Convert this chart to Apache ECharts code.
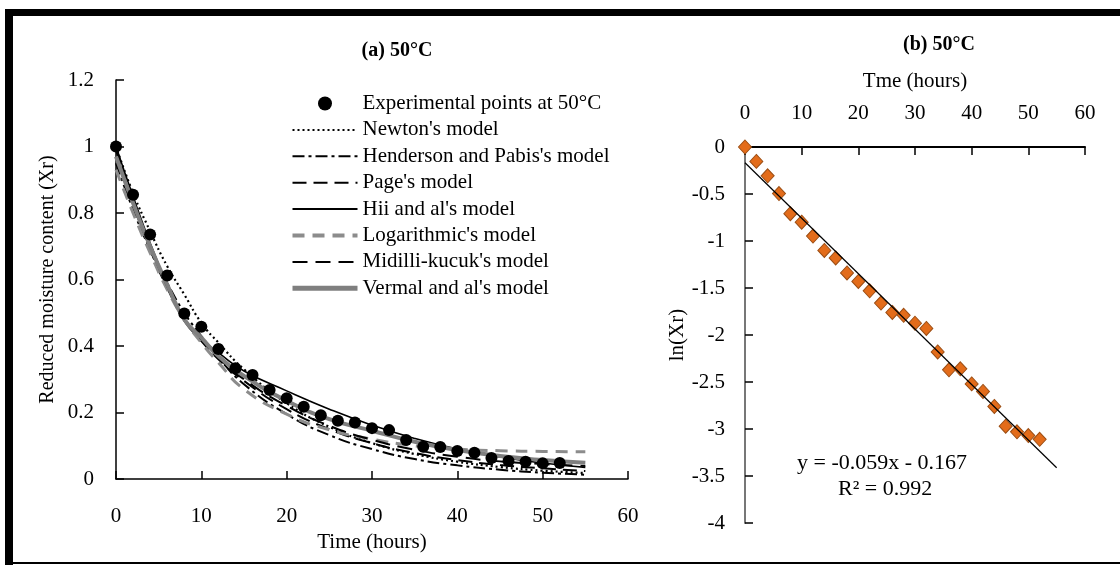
<!DOCTYPE html>
<html>
<head>
<meta charset="utf-8">
<script src="https://cdn.jsdelivr.net/npm/echarts@6/dist/echarts.min.js"></script>
<style>
  html, body { margin: 0; padding: 0; background: #fff; }
  #chart { width: 1120px; height: 565px; }
</style>
</head>
<body>
<div id="chart"></div>
<script>
// experimental drying points (hours) and reduced moisture content
const expTimes = [0, 2, 4, 6, 8, 10, 12, 14, 16, 18, 20, 22, 24, 26, 28, 30, 32, 34, 36, 38, 40, 42, 44, 46, 48, 50, 52];
const expXr = [1, 0.855, 0.735, 0.612, 0.498, 0.458, 0.391, 0.333, 0.313, 0.268, 0.243, 0.217, 0.192, 0.175, 0.17, 0.153, 0.147, 0.117, 0.097, 0.096, 0.084, 0.079, 0.063, 0.054, 0.052, 0.047, 0.048];
const expLnXr = [0, -0.153, -0.307, -0.495, -0.71, -0.8, -0.947, -1.1, -1.18, -1.34, -1.43, -1.53, -1.66, -1.76, -1.79, -1.875, -1.93, -2.18, -2.37, -2.36, -2.52, -2.6, -2.76, -2.97, -3.03, -3.07, -3.11];

// model curves
const modelTimes = [0, 2, 4, 6, 8, 10, 12, 15, 20, 25, 30, 35, 40, 45, 50, 55];
const newton = [1, 0.86, 0.745, 0.64, 0.555, 0.47, 0.41, 0.33, 0.228, 0.157, 0.108, 0.075, 0.052, 0.036, 0.025, 0.018];
const henderson = [0.95, 0.81, 0.69, 0.59, 0.5, 0.43, 0.365, 0.285, 0.195, 0.132, 0.09, 0.06, 0.041, 0.028, 0.019, 0.013];
const page = [1, 0.83, 0.69, 0.575, 0.48, 0.415, 0.36, 0.295, 0.21, 0.15, 0.108, 0.078, 0.057, 0.042, 0.032, 0.024];
const hii = [1, 0.85, 0.71, 0.585, 0.475, 0.42, 0.38, 0.325, 0.265, 0.21, 0.162, 0.122, 0.09, 0.066, 0.048, 0.035];
const logarithmic = [0.93, 0.8, 0.68, 0.57, 0.48, 0.41, 0.35, 0.27, 0.195, 0.148, 0.12, 0.1, 0.09, 0.085, 0.083, 0.082];
const midilli = [0.99, 0.83, 0.7, 0.58, 0.48, 0.42, 0.365, 0.3, 0.22, 0.16, 0.118, 0.088, 0.067, 0.053, 0.045, 0.039];
const verma = [0.97, 0.83, 0.7, 0.585, 0.48, 0.425, 0.37, 0.31, 0.235, 0.18, 0.145, 0.112, 0.087, 0.069, 0.057, 0.049];

// linear fit of ln(Xr)
const trendTimes = [0, 55];
const trendLn = [-0.167, -3.412];

const legendNames = [
    "Experimental points at 50°C",
    "Newton's model",
    "Henderson and Pabis's model",
    "Page's model",
    "Hii and al's model",
    "Logarithmic's model",
    "Midilli-kucuk's model",
    "Vermal and al's model",
];

const FONT = "'Times New Roman', 'Liberation Serif', serif";
const pairs = (xs, ys) => xs.map((x, i) => [x, ys[i]]);

const modelLine = (name, values, color, width, type) => ({
    name: name,
    type: "line",
    xAxisIndex: 0,
    yAxisIndex: 0,
    data: pairs(modelTimes, values),
    smooth: true,
    symbol: "none",
    lineStyle: { color: color, width: width, type: type },
    itemStyle: { color: color },
    z: 2,
});

// legend entries: hide the little symbol drawn on line icons
const legendData = legendNames.map((name, i) => {
    if (i === 0) return { name: name };
    const item = {
        name: name,
        itemStyle: { color: "rgba(0,0,0,0)", borderWidth: 0, opacity: 0 },
    };
    if (i === 7) item.lineStyle = { width: 5 };
    if (i === 5) item.lineStyle = { width: 4 };
    return item;
});

const chart = echarts.init(document.getElementById("chart"));

const axisText = { color: "#000", fontFamily: FONT, fontSize: 21 };

const option = {
    backgroundColor: "#fff",
    animation: false,
    textStyle: { fontFamily: FONT },
    title: [
        {
            text: "(a) 50°C",
            left: 392,
            top: 36,
            textAlign: "center",
            textStyle: { fontFamily: FONT, fontWeight: "bold", fontSize: 20, color: "#000" },
        },
        {
            text: "(b) 50°C",
            left: 934,
            top: 30,
            textAlign: "center",
            textStyle: { fontFamily: FONT, fontWeight: "bold", fontSize: 20, color: "#000" },
        },
    ],
    legend: {
        data: legendData,
        orient: "vertical",
        left: 285,
        top: 88,
        itemWidth: 65,
        itemHeight: 14,
        itemGap: 5.4,
        selectedMode: false,
        textStyle: { fontFamily: FONT, fontSize: 21, color: "#000" },
    },
    grid: [
        { left: 116, top: 80, width: 512, height: 399 },
        { left: 745, top: 147, width: 340, height: 376 },
    ],
    xAxis: [
        {
            gridIndex: 0,
            type: "value",
            min: 0,
            max: 60,
            interval: 10,
            name: "Time (hours)",
            nameLocation: "middle",
            nameGap: 46,
            nameTextStyle: { color: "#000", fontFamily: FONT, fontSize: 21 },
            axisLine: { lineStyle: { color: "#000", width: 1.5 } },
            axisTick: { inside: true, length: 8, lineStyle: { color: "#000", width: 1.5 } },
            axisLabel: Object.assign({ margin: 27 }, axisText),
            splitLine: { show: false },
        },
        {
            gridIndex: 1,
            type: "value",
            position: "top",
            min: 0,
            max: 60,
            interval: 10,
            name: "Tme (hours)",
            nameLocation: "middle",
            nameGap: 55,
            nameTextStyle: { color: "#000", fontFamily: FONT, fontSize: 21 },
            axisLine: { onZero: false, lineStyle: { color: "#000", width: 2 } },
            axisTick: { inside: true, length: 8, lineStyle: { color: "#000", width: 1.5 } },
            axisLabel: Object.assign({ margin: 23 }, axisText),
            splitLine: { show: false },
        },
    ],
    yAxis: [
        {
            gridIndex: 0,
            type: "value",
            min: 0,
            max: 1.2,
            interval: 0.2,
            name: "Reduced moisture content (Xr)",
            nameLocation: "middle",
            nameGap: 58,
            nameTextStyle: { color: "#000", fontFamily: FONT, fontSize: 20 },
            axisLine: { show: true, lineStyle: { color: "#000", width: 1.5 } },
            axisTick: { show: true, inside: true, length: 8, lineStyle: { color: "#000", width: 1.5 } },
            axisLabel: Object.assign({ margin: 22 }, axisText),
            splitLine: { show: false },
        },
        {
            gridIndex: 1,
            type: "value",
            min: -4,
            max: 0,
            interval: 0.5,
            name: "ln(Xr)",
            nameLocation: "middle",
            nameGap: 32,
            nameTextStyle: { color: "#000", fontFamily: FONT, fontSize: 21 },
            axisLine: { show: true, lineStyle: { color: "#777", width: 2 } },
            axisTick: { show: true, inside: true, length: 8, lineStyle: { color: "#000", width: 1.5 } },
            axisLabel: Object.assign({ margin: 20 }, axisText),
            splitLine: { show: false },
        },
    ],
    series: [
        modelLine(legendNames[1], newton, "#000", 2.2, [2, 3]),
        modelLine(legendNames[2], henderson, "#000", 2, [12, 4, 3, 4]),
        modelLine(legendNames[3], page, "#000", 2, [14, 7]),
        modelLine(legendNames[4], hii, "#000", 1.6, "solid"),
        modelLine(legendNames[5], logarithmic, "#8c8c8c", 3, [12, 8]),
        modelLine(legendNames[6], midilli, "#000", 2, [15, 8]),
        modelLine(legendNames[7], verma, "#7f7f7f", 4, "solid"),
        {
            name: legendNames[0],
            type: "scatter",
            xAxisIndex: 0,
            yAxisIndex: 0,
            data: pairs(expTimes, expXr),
            symbol: "circle",
            symbolSize: 12,
            itemStyle: { color: "#000", opacity: 1 },
            z: 5,
        },
        {
            name: "ln(Xr)",
            type: "scatter",
            xAxisIndex: 1,
            yAxisIndex: 1,
            data: pairs(expTimes, expLnXr),
            symbol: "diamond",
            symbolSize: [13, 14],
            itemStyle: { color: "#e36c1a", borderColor: "#9c4e14", borderWidth: 1, opacity: 1 },
            z: 3,
        },
        {
            name: "Linear fit",
            type: "line",
            xAxisIndex: 1,
            yAxisIndex: 1,
            data: pairs(trendTimes, trendLn),
            symbol: "none",
            lineStyle: { color: "#000", width: 1.2 },
            z: 4,
        },
    ],
    graphic: [
        // frame around the figure
        { type: "rect", shape: { x: 5, y: 9, width: 1115, height: 7 }, style: { fill: "#000" } },
        { type: "rect", shape: { x: 5, y: 9, width: 8, height: 556 }, style: { fill: "#000" } },
        { type: "rect", shape: { x: 5, y: 562, width: 1115, height: 2 }, style: { fill: "#000" } },
        {
            type: "text",
            left: 797,
            top: 452,
            style: { text: "y = -0.059x - 0.167", font: "22px " + FONT, fill: "#000" },
        },
        {
            type: "text",
            left: 838,
            top: 478,
            style: { text: "R² = 0.992", font: "22px " + FONT, fill: "#000" },
        },
    ],
};

chart.setOption(option);
</script>
</body>
</html>
